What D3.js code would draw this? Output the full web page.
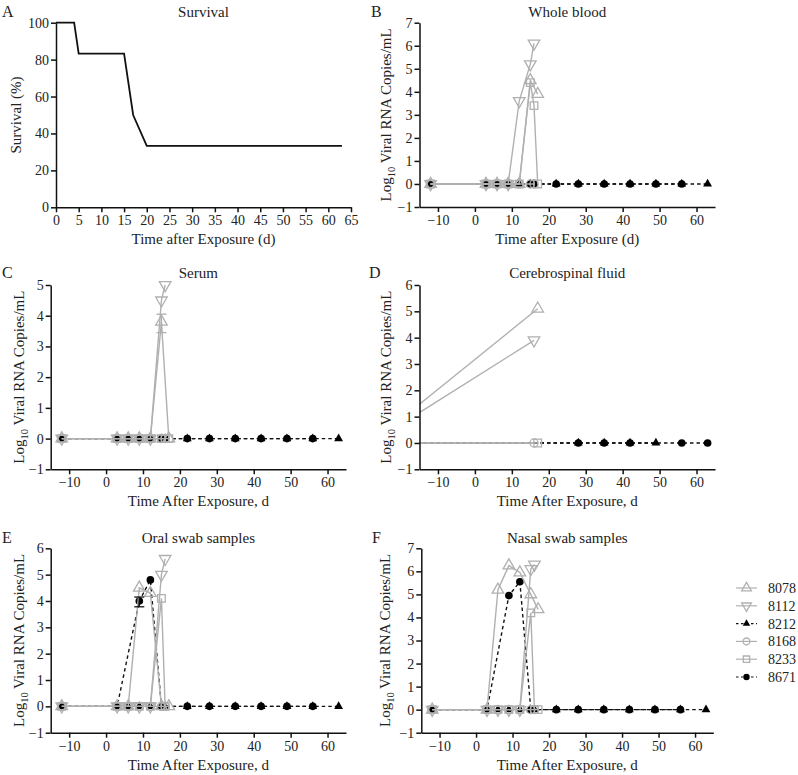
<!DOCTYPE html>
<html><head><meta charset="utf-8">
<script src="https://cdn.jsdelivr.net/npm/d3@7"></script>
<style>body{margin:0;background:#fff}svg text{font-family:"Liberation Serif",Tinos,"Times New Roman","DejaVu Serif",serif;fill:#222}</style>
</head><body><svg id="c" width="798" height="775"></svg>
<script>
// ---------- DATA ----------
const survivalDays = [0, 4, 5, 15, 17, 20, 63];
const survivalPct  = [100, 100, 83.3, 83.3, 50, 33.3, 33.3];
const survivalTicksX = d3.range(0, 66, 5);
const survivalTicksY = [0, 20, 40, 60, 80, 100];

const animals = ["8078", "8112", "8212", "8168", "8233", "8671"];

const wholeBlood = [
  {id: "8078", pts: [[-12,0],[3,0],[6,0],[9,0],[12,0],[15,4.5],[17,3.9]]},
  {id: "8112", pts: [[-12,0],[3,0],[6,0],[9,0],[12,3.6],[15,5.2],[16,6.1]]},
  {id: "8212", pts: [[-12,0],[3,0],[6,0],[9,0],[12,0],[15,0],[16,0],[22,0],[28,0],[35,0],[42,0],[49,0],[56,0],[63,0]]},
  {id: "8168", pts: [[-12,0],[3,0],[6,0],[9,0],[12,0],[15,0],[16,0]]},
  {id: "8233", pts: [[-12,0],[3,0],[6,0],[9,0],[12,0],[15,4.4],[16,3.4],[17,0]]},
  {id: "8671", pts: [[-12,0],[3,0],[6,0],[9,0],[15,0],[16,0],[22,0],[28,0],[35,0],[42,0],[49,0],[56,0]]}
];
const serum = [
  {id: "8078", pts: [[-12,0],[3,0],[6,0],[9,0],[12,0],[15,3.8],[17,0]]},
  {id: "8112", pts: [[-12,0],[3,0],[6,0],[9,0],[12,0],[15,4.5],[16,5.0]]},
  {id: "8212", pts: [[-12,0],[3,0],[6,0],[9,0],[12,0],[15,0],[16,0],[22,0],[28,0],[35,0],[42,0],[49,0],[56,0],[63,0]]},
  {id: "8168", pts: [[-12,0],[3,0],[6,0],[9,0],[12,0],[15,0],[16,0]]},
  {id: "8233", pts: [[-12,0],[3,0],[6,0],[9,0],[12,0],[15,0],[16,0],[17,0]]},
  {id: "8671", pts: [[-12,0],[3,0],[6,0],[9,0],[12,0],[15,0],[16,0],[22,0],[28,0],[35,0],[42,0],[49,0],[56,0]]}
];
const serumErr = [{id: "8078", day: 15, lo: 3.45, hi: 4.05}];
const csf = [
  {id: "8078", pts: [[-28,0],[17,5.1]]},
  {id: "8112", pts: [[-28,0],[16,3.9]]},
  {id: "8212", pts: [[-28,0],[28,0],[35,0],[42,0],[49,0]]},
  {id: "8168", pts: [[-28,0],[16,0]]},
  {id: "8233", pts: [[-28,0],[17,0]]},
  {id: "8671", pts: [[-28,0],[28,0],[35,0],[42,0],[56,0],[63,0]]}
];
const oral = [
  {id: "8078", pts: [[-12,0],[3,0],[6,0],[9,4.5],[12,4.3],[15,0],[17,0]]},
  {id: "8112", pts: [[-12,0],[3,0],[6,0],[9,0],[12,0],[15,5.0],[16,5.6]]},
  {id: "8212", pts: [[-12,0],[3,0],[6,0],[9,0],[12,0],[15,0],[16,0],[22,0],[28,0],[35,0],[42,0],[49,0],[56,0],[63,0]]},
  {id: "8168", pts: [[-12,0],[3,0],[6,0],[9,0],[12,0],[15,0],[16,0]]},
  {id: "8233", pts: [[-12,0],[3,0],[6,0],[9,0],[12,0],[15,4.1],[16,0]]},
  {id: "8671", pts: [[-12,0],[3,0],[9,4.0],[12,4.8],[15,0],[22,0],[28,0],[35,0],[42,0],[49,0],[56,0]]}
];
const oralErr = [{id: "8671", day: 9, lo: 3.78, hi: 4.15}];
const nasal = [
  {id: "8078", pts: [[-12,0],[3,0],[6,5.2],[9,6.25],[12,5.95],[15,5.0],[17,4.35]]},
  {id: "8112", pts: [[-12,0],[3,0],[6,0],[9,0],[12,0],[15,6.1],[16,6.3]]},
  {id: "8212", pts: [[-12,0],[3,0],[6,0],[9,0],[12,0],[15,0],[16,0],[22,0],[28,0],[35,0],[42,0],[49,0],[56,0],[63,0]]},
  {id: "8168", pts: [[-12,0],[3,0],[6,0],[9,0],[12,0],[15,0],[16,0]]},
  {id: "8233", pts: [[-12,0],[3,0],[6,0],[9,0],[12,0],[15,4.2],[16,0],[17,0]]},
  {id: "8671", pts: [[-12,0],[3,0],[9,4.95],[12,5.55],[15,0],[22,0],[28,0],[35,0],[42,0],[49,0],[56,0]]}
];
const viralTicksX = [-10, 0, 10, 20, 30, 40, 50, 60];

// ---------- STYLE ----------
const GRAY = "#b0b0b0";
const FONT = '"Liberation Serif", Tinos, "Times New Roman", "DejaVu Serif", serif';
const style = {
  "8078": {shape: "up",     filled: false},
  "8112": {shape: "down",   filled: false},
  "8212": {shape: "up",     filled: true},
  "8168": {shape: "circle", filled: false},
  "8233": {shape: "square", filled: false},
  "8671": {shape: "circle", filled: true}
};
const svg = d3.select("#c");
const fmt = d3.format("d");

function symbolPath(shape, filled, scale) {
  const k = scale || 1;
  if (shape === "up" || shape === "down") return d3.symbol(d3.symbolTriangle, (filled ? 34 : 58) * k)();
  if (shape === "circle") return d3.symbol(d3.symbolCircle, (filled ? 46 : 52) * k)();
  return d3.symbol(d3.symbolSquare, 58 * k)();
}
function drawMarker(g, shape, filled, x, y, scale) {
  const p = g.append("path").attr("d", symbolPath(shape, filled, scale))
    .attr("transform", `translate(${x},${y})` + (shape === "down" ? " rotate(180)" : ""));
  if (filled) p.attr("fill", "#000").attr("stroke", "none");
  else p.attr("fill", "none").attr("stroke", GRAY).attr("stroke-width", 1.3);
}

function axes(g, x, y, xt, yt, x0, y0) {
  const ax = g.append("g").attr("transform", `translate(0,${y0})`)
    .call(d3.axisBottom(x).tickValues(xt).tickFormat(fmt).tickSize(5).tickSizeOuter(0).tickPadding(3));
  const ay = g.append("g").attr("transform", `translate(${x0},0)`)
    .call(d3.axisLeft(y).tickValues(yt).tickFormat(fmt).tickSize(5).tickSizeOuter(0).tickPadding(2));
  [ax, ay].forEach(a => {
    a.attr("font-family", FONT);
    a.selectAll("path,line").attr("stroke", "#111").attr("stroke-width", 1.5);
    a.selectAll("text").attr("font-family", FONT).attr("font-size", 14).attr("fill", "#222");
  });
}

function txt(x, y, s, size, anchor) {
  return svg.append("text").attr("x", x).attr("y", y).attr("font-family", FONT)
    .attr("font-size", size).attr("text-anchor", anchor || "start").text(s);
}

function labels(p) {
  txt(p.letterX, p.titleY, p.letter, 16);
  txt((p.xr[0] + p.xr[1]) / 2, p.titleY, p.title, 15, "middle");
  txt((p.xr[0] + p.xr[1]) / 2, p.yr[0] + 37, p.xlabel, 15, "middle");
  const yl = svg.append("text").attr("transform", `translate(${p.ylabX},${(p.yr[0] + p.yr[1]) / 2}) rotate(-90)`)
    .attr("text-anchor", "middle").attr("font-size", 15).attr("font-family", FONT);
  if (p.ylabel === "log") {
    yl.append("tspan").text("Log");
    yl.append("tspan").attr("font-size", 10.5).attr("dy", 4).text("10");
    yl.append("tspan").attr("dy", -4).text(" Viral RNA Copies/mL");
  } else yl.text(p.ylabel);
}

// ---------- PANEL A ----------
(function () {
  const p = {xr: [56, 351], yr: [207.3, 22.7], letter: "A", letterX: 2, titleY: 17,
    title: "Survival", xlabel: "Time after Exposure (d)", ylabel: "Survival (%)", ylabX: 21};
  const x = d3.scaleLinear().domain([0, 65]).range(p.xr);
  const y = d3.scaleLinear().domain([0, 100]).range(p.yr);
  const g = svg.append("g");
  g.append("path").datum(d3.zip(survivalDays, survivalPct))
    .attr("d", d3.line().x(d => x(d[0])).y(d => y(d[1])))
    .attr("fill", "none").attr("stroke", "#111").attr("stroke-width", 1.8);
  axes(g, x, y, survivalTicksX, survivalTicksY, p.xr[0], p.yr[0]);
  labels(p);
})();

// ---------- VIRAL PANELS ----------
let clipId = 0;
function viralPanel(p) {
  const x = d3.scaleLinear().domain([-15, 65]).range(p.xr);
  const y = d3.scaleLinear().domain(p.ydom).range(p.yr);
  const g = svg.append("g");
  const cid = "clip" + (clipId++);
  g.append("clipPath").attr("id", cid).append("rect")
    .attr("x", p.xr[0]).attr("y", p.yr[1] - 10).attr("width", p.xr[1] - p.xr[0] + 10).attr("height", p.yr[0] - p.yr[1] + 10);
  const line = d3.line().x(d => x(d[0])).y(d => y(d[1]));
  const black = p.data.filter(s => style[s.id].filled);
  const gray = p.data.filter(s => !style[s.id].filled);
  const inDom = d => d[0] >= -15 && d[0] <= 65;
  black.forEach(s => {
    g.append("path").datum(s.pts).attr("d", line).attr("clip-path", `url(#${cid})`)
      .attr("fill", "none").attr("stroke", "#111").attr("stroke-width", 1.4).attr("stroke-dasharray", "3.5,3");
  });
  black.forEach(s => s.pts.filter(inDom).forEach(d => drawMarker(g, style[s.id].shape, true, x(d[0]), y(d[1]))));
  gray.forEach(s => {
    g.append("path").datum(s.pts).attr("d", line).attr("clip-path", `url(#${cid})`)
      .attr("fill", "none").attr("stroke", GRAY).attr("stroke-width", 1.4);
  });
  gray.forEach(s => s.pts.filter(inDom).forEach(d => drawMarker(g, style[s.id].shape, false, x(d[0]), y(d[1]))));
  (p.err || []).forEach(e => {
    const c = style[e.id].filled ? "#111" : GRAY;
    const xx = x(e.day);
    g.append("line").attr("x1", xx).attr("x2", xx).attr("y1", y(e.lo)).attr("y2", y(e.hi)).attr("stroke", c).attr("stroke-width", 1.3);
    [e.lo, e.hi].forEach(v => g.append("line").attr("x1", xx - 5).attr("x2", xx + 5).attr("y1", y(v)).attr("y2", y(v)).attr("stroke", c).attr("stroke-width", 1.3));
  });
  axes(g, x, y, viralTicksX, d3.range(p.ydom[0], p.ydom[1] + 1), p.xr[0], p.yr[0]);
  labels(p);
}

viralPanel({xr: [419.5, 715], yr: [207, 22.7], ydom: [-1, 7], data: wholeBlood, letter: "B", letterX: 371, titleY: 17,
  title: "Whole blood", xlabel: "Time after Exposure (d)", ylabel: "log", ylabX: 391});
viralPanel({xr: [50.7, 346], yr: [469.3, 285], ydom: [-1, 5], data: serum, err: serumErr, letter: "C", letterX: 2, titleY: 278,
  title: "Serum", xlabel: "Time After Exposure, d", ylabel: "log", ylabX: 24});
viralPanel({xr: [419.5, 715], yr: [469.3, 285], ydom: [-1, 6], data: csf, letter: "D", letterX: 369, titleY: 278,
  title: "Cerebrospinal fluid", xlabel: "Time After Exposure, d", ylabel: "log", ylabX: 391});
viralPanel({xr: [50.7, 346], yr: [732.7, 548.3], ydom: [-1, 6], data: oral, err: oralErr, letter: "E", letterX: 2, titleY: 543,
  title: "Oral swab samples", xlabel: "Time After Exposure, d", ylabel: "log", ylabX: 24});
viralPanel({xr: [421.3, 713.3], yr: [732.7, 548.3], ydom: [-1, 7], data: nasal, letter: "F", letterX: 372, titleY: 543,
  title: "Nasal swab samples", xlabel: "Time After Exposure, d", ylabel: "log", ylabX: 390});

// ---------- LEGEND ----------
const lg = svg.append("g");
animals.forEach((id, i) => {
  const yy = 588 + i * 17.8;
  const st = style[id];
  lg.append("line").attr("x1", 736).attr("x2", 757).attr("y1", yy).attr("y2", yy)
    .attr("stroke", st.filled ? "#111" : GRAY).attr("stroke-width", 1.2)
    .attr("stroke-dasharray", st.filled ? "2.5,2.5" : null);
  drawMarker(lg, st.shape, st.filled, 746.5, yy, 0.7);
  txt(768, yy + 5, id, 14);
});
</script></body></html>
